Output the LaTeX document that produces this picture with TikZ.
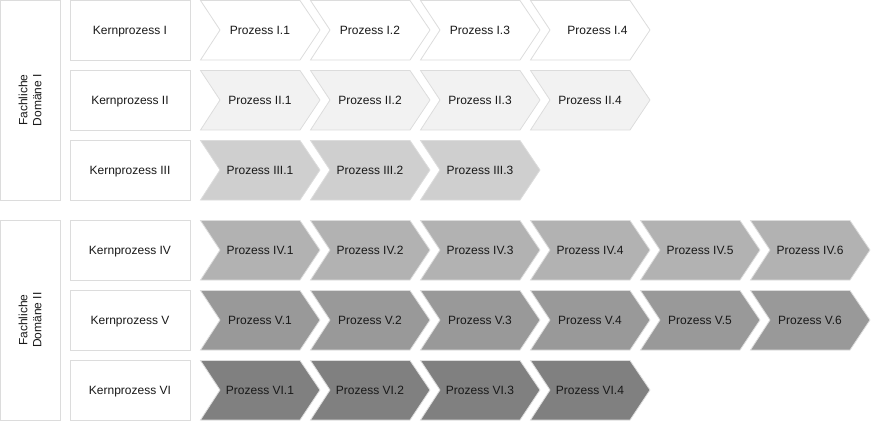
\documentclass[tikz,border=0pt]{standalone}
\usepackage{fontspec}
\setmainfont{Liberation Sans}
\definecolor{boxline}{HTML}{DCDCDC}
\definecolor{rowA}{HTML}{FFFFFF}
\definecolor{rowB}{HTML}{F2F2F2}
\definecolor{rowC}{HTML}{CFCFCF}
\definecolor{rowD}{HTML}{B2B2B2}
\definecolor{rowE}{HTML}{999999}
\definecolor{rowF}{HTML}{808080}
\tikzset{
  frame/.style={draw=boxline, fill=white, line width=0.8pt},
  chev/.style={draw=boxline, line width=0.8pt},
  lbl/.style={font=\fontsize{12}{14}\selectfont, inner sep=0pt, text=black!90},
}
\begin{document}
\begin{tikzpicture}[x=1pt,y=-1pt]
\useasboundingbox (0,0) rectangle (871,421);
% domains
\draw[frame] (0.5,0.5) rectangle (60.5,200);
\node[lbl, rotate=90, align=center] (d1) at (30,100) {Fachliche\\Domäne I};
\draw[frame] (0.5,220.5) rectangle (60.5,420);
\node[lbl, rotate=90, align=center] (d2) at (30,320) {Fachliche\\Domäne II};
% rows
\foreach \r/\yy/\col/\n/\rom in {1/0/rowA/4/I, 2/70/rowB/4/II, 3/140/rowC/3/III, 4/220/rowD/6/IV, 5/290/rowE/6/V, 6/360/rowF/4/VI}{
  \draw[frame] (70.5,\yy+0.5) rectangle (190,\yy+60);
  \node[lbl, anchor=base] (k\r) at (130,\yy+34.5) {Kernprozess \rom};
  \foreach \i in {1,...,\n}{
    \pgfmathsetmacro{\xx}{200+110*(\i-1)}
    \pgfmathsetmacro{\dx}{(\r==1 && \i==4) ? 7.5 : 0}
    \draw[chev, fill=\col] (\xx+0.5,\yy+0.5) -- (\xx+100,\yy+0.5) -- (\xx+120,\yy+30) -- (\xx+100,\yy+60) -- (\xx+0.5,\yy+60) -- (\xx+20,\yy+30) -- cycle;
    \node[lbl, anchor=base] (p\r-\i) at (\xx+60+\dx,\yy+34.5) {Prozess \rom.\i};
  }
}
\end{tikzpicture}
\end{document}
